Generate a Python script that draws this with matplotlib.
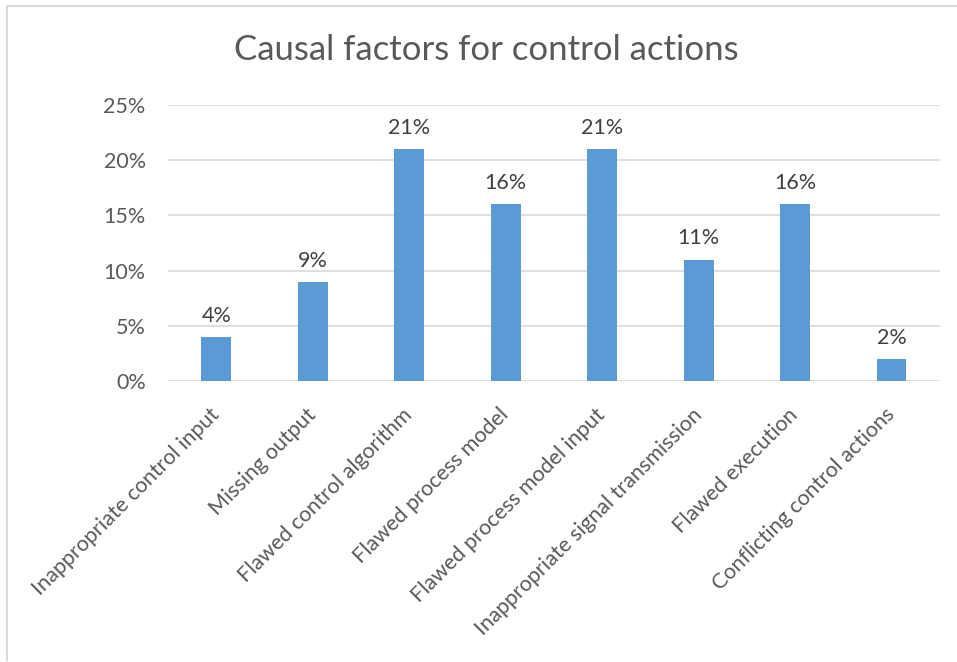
import matplotlib.pyplot as plt
from matplotlib.lines import Line2D
from matplotlib.ticker import PercentFormatter

plt.rcParams['font.family'] = ['Lato', 'DejaVu Sans']

categories = ['Inappropriate control input', 'Missing output', 'Flawed control algorithm',
              'Flawed process model', 'Flawed process model input',
              'Inappropriate signal transmission', 'Flawed execution',
              'Conflicting control actions']
shares = [4, 9, 21, 16, 21, 11, 16, 2]

text_col = '#595959'
bar_col = '#5B9BD5'
grid_col = '#D9D9D9'

fig = plt.figure(figsize=(9.57, 6.62), dpi=100)
ax = fig.add_axes([0.1755, 0.4245, 0.8065, 0.4169])

x = range(len(categories))
bars = ax.bar(x, shares, width=0.31, color=bar_col, zorder=3)
for b, v in zip(bars, shares):
    ax.annotate(f'{v}%', (b.get_x() + b.get_width() / 2, v), xytext=(0, 8),
                textcoords='offset points', ha='center', va='bottom',
                fontsize=15.5, color='#404040')

ax.set_xlim(-0.5, len(categories) - 0.5)
ax.set_ylim(0, 25)
ax.set_yticks(range(0, 26, 5))
ax.yaxis.set_major_formatter(PercentFormatter(decimals=0))
ax.grid(axis='y', color=grid_col, linewidth=1.2, zorder=0)
for s in ax.spines.values():
    s.set_visible(False)
ax.tick_params(length=0, colors=text_col, labelsize=15.5)
ax.tick_params(axis='y', pad=16)
ax.set_xticks(list(x))
ax.set_xticklabels(categories, rotation=45, ha='right', va='center', rotation_mode='anchor')
ax.tick_params(axis='x', pad=22)

fig.text(0.508, 0.925, 'Causal factors for control actions', ha='center', va='center',
         fontsize=25, color=text_col)

# chart frame: only top and left edges are visible in the crop
fx, fy = 7 / 957, 1 - 6 / 662
fig.add_artist(Line2D([fx, 1], [fy, fy], transform=fig.transFigure, color='#D9D9D9', lw=1.5))
fig.add_artist(Line2D([fx, fx], [fy, 2 / 662], transform=fig.transFigure, color='#D9D9D9', lw=1.5))

fig.savefig('out.png', dpi=100)
